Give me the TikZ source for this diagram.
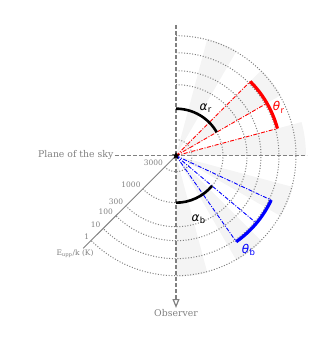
\documentclass[tikz,border=0pt]{standalone}
\usepackage{fontspec}
\setmainfont{DejaVu Serif}
\newfontfamily\dvsans{DejaVu Sans}
\usetikzlibrary{shapes.geometric,arrows.meta}
\definecolor{axgray}{gray}{0.5}
\definecolor{wedgegray}{gray}{0.955}
\newcommand\glab[2]{{\dvsans\itshape #1}\kern0.3pt\raisebox{-0.4ex}{\fontsize{8.5}{9}\selectfont\dvsans #2}}
\tikzset{
  axdash/.style={axgray, line width=1.2pt, dash pattern=on 4pt off 2pt},
  dotc/.style={axgray, line width=1pt, dash pattern=on 1pt off 1.7pt},
  reddd/.style={red, line width=0.9pt, dash pattern=on 4pt off 1.5pt on 1pt off 1.5pt},
  bluedd/.style={blue, line width=0.9pt, dash pattern=on 4pt off 1.5pt on 1pt off 1.5pt},
  thetaarc/.style={line width=3.2pt},
  alphaarc/.style={black, line width=2.6pt},
  numlab/.style={axgray, font=\fontsize{7.5}{8}\selectfont, inner sep=0pt},
  skylab/.style={axgray, font=\fontsize{9.3}{10}\selectfont, inner sep=0pt},
  greeklab/.style={font=\fontsize{12}{13}\selectfont, inner sep=0pt}
}
\begin{document}
\begin{tikzpicture}[x=1pt,y=1pt]
\useasboundingbox (-176,-195.3) rectangle (156,155.7);
% shaded wedges
\foreach \a in {-90,-60,-30,30,60}
  \fill[wedgegray] (0,0) -- (\a:121) arc[start angle=\a,end angle=\a+15,radius=121] -- cycle;
\fill[wedgegray] (0,0) -- (0:130) arc[start angle=0,end angle=15,radius=130] -- cycle;
% dotted circles
\foreach \r in {16,47,71,85,103,120}
  \draw[dotc] (90:\r) arc[start angle=90,end angle=-135,radius=\r];
% coordinates
\coordinate (top) at (0,130.7);
\coordinate (bot) at (0,-152.3);
\coordinate (left) at (-61,0);
\coordinate (right) at (131,0);
\coordinate (diag) at (-92.7,-92.6);
\coordinate (r1) at (45:105);
\coordinate (r2) at (30:105);
\coordinate (r3) at (15:105);
\coordinate (b1) at (-25:105);
\coordinate (b2) at (-40:105);
\coordinate (b3) at (-55:105);
\coordinate (c0) at (0,0);
% axes
\draw[axdash] (left) -- (right);
\draw[axdash, -{Triangle[open,length=9pt,width=7pt,fill=white]}] (top) -- (bot);
\draw[axgray, line width=0.9pt] (c0) -- (diag);
% jet lines
\draw[reddd] (c0) -- (r1);
\draw[reddd] (c0) -- (r2);
\draw[reddd] (c0) -- (r3);
\draw[bluedd] (c0) -- (b1);
\draw[bluedd] (c0) -- (b2);
\draw[bluedd] (c0) -- (b3);
% theta arcs
\draw[thetaarc, red] (r1) arc[start angle=45,end angle=15,radius=105];
\draw[thetaarc, blue] (b1) arc[start angle=-25,end angle=-55,radius=105];
% alpha arcs
\draw[alphaarc] (90:47) arc[start angle=90,end angle=30,radius=47];
\draw[alphaarc] (-90:47) arc[start angle=-90,end angle=-40,radius=47];
% star
\node[star, star points=5, star point ratio=2.4, fill=black, minimum size=8pt, inner sep=0pt] (c) at (c0) {};
% labels
\node[greeklab, black] (ar) at (29.5,47.5) {\glab{α}{r}};
\node[greeklab, red] (tr) at (102.5,48.5) {\glab{θ}{r}};
\node[greeklab, black] (ab) at (22.5,-63.5) {\glab{α}{b}};
\node[greeklab, blue] (tb) at (72.5,-94.5) {\glab{θ}{b}};
\node[numlab] (n3000) at (-22.7,-7) {3000};
\node[numlab] (n1000) at (-45,-29.3) {1000};
\node[numlab] (n300) at (-60,-46) {300};
\node[numlab] (n100) at (-70.3,-56) {100};
\node[numlab] (n10) at (-80.3,-69.3) {10};
\node[numlab] (n1) at (-89.3,-81) {1};
\node[numlab] (eupp) at (-101,-97.6) {E\textsubscript{upp}/k (K)};
\node[skylab, anchor=east] (sky) at (-62.5,0.5) {Plane of the sky};
\node[skylab] (obs) at (0,-157.8) {Observer};
\end{tikzpicture}
\end{document}
